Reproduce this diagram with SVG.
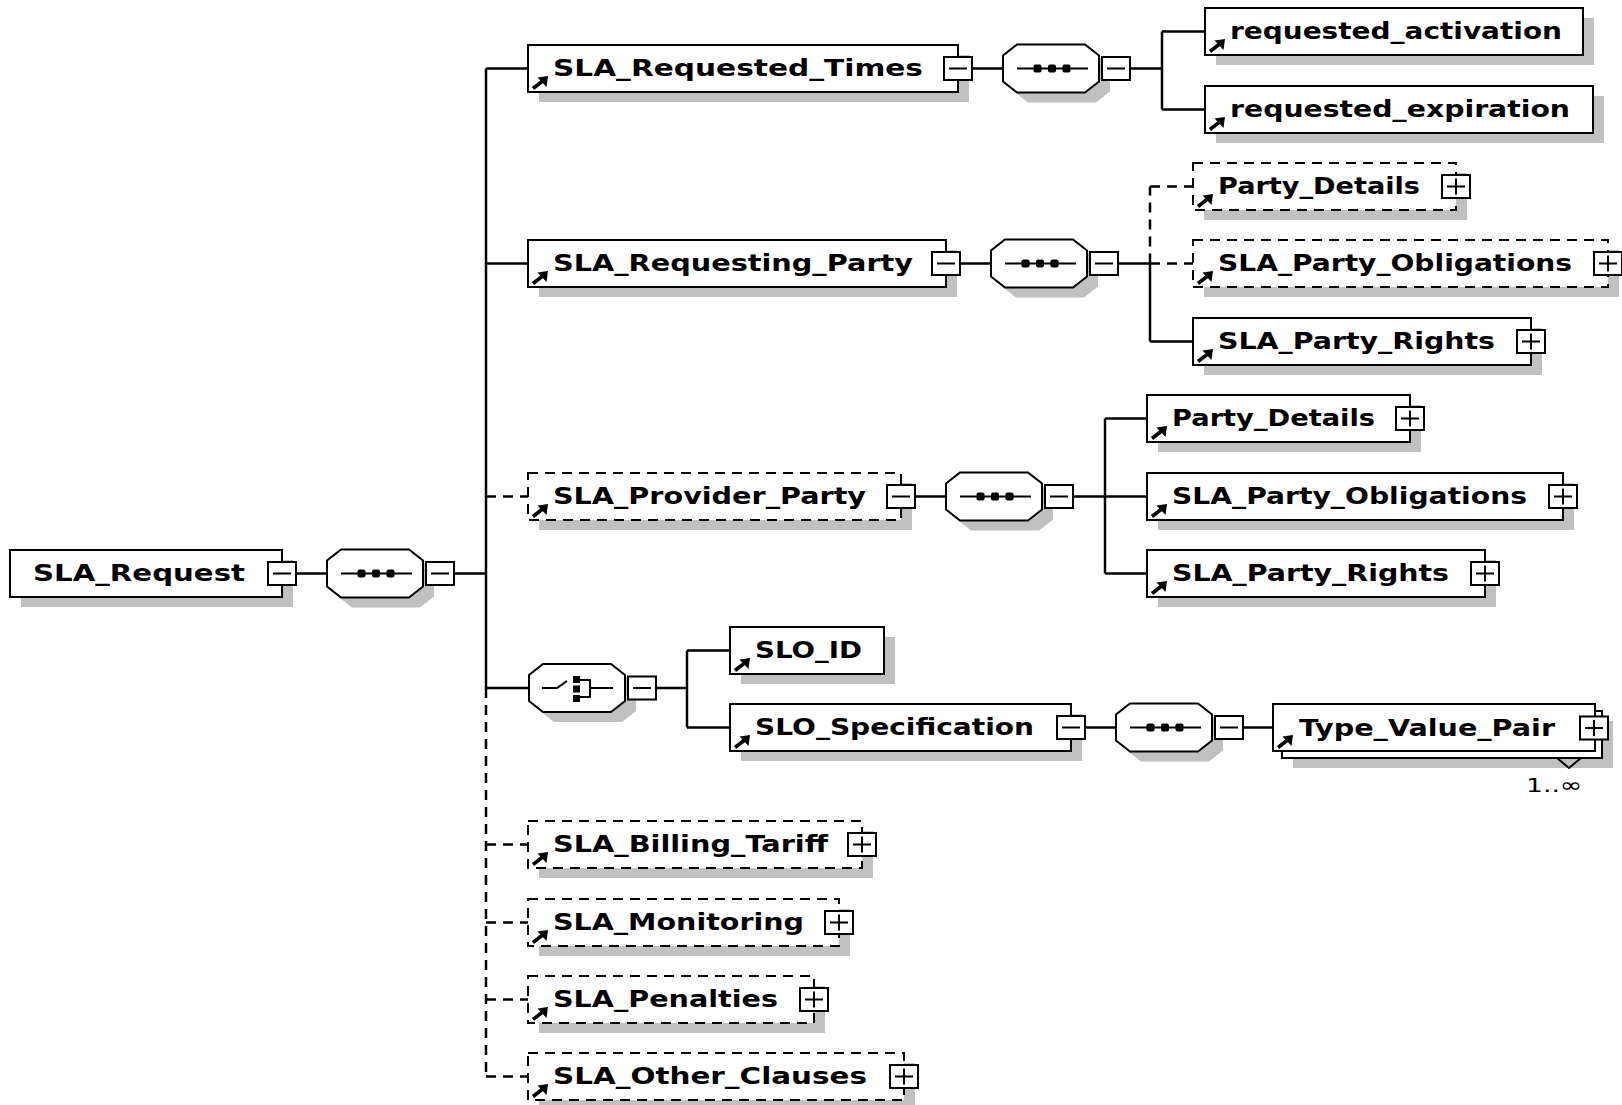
<svg xmlns="http://www.w3.org/2000/svg" xmlns:xlink="http://www.w3.org/1999/xlink" width="1622" height="1105" viewBox="0 0 1622 1105">
  <style>
    .box { fill: #fff; stroke: #000; stroke-width: 2; }
    .opt { stroke-dasharray: 10 7; }
    .sh { fill: #c0c0c0; stroke: none; }
    .ln { fill: none; stroke: #000; stroke-width: 2.5; }
    .dl { stroke-dasharray: 10 7; }
    .lbl { font-family: "DejaVu Sans", Verdana, sans-serif; font-weight: bold; font-size: 23px; fill: #000; }
    .occ { font-family: "DejaVu Sans", Verdana, sans-serif; font-size: 20px; fill: #000; }
  </style>
  <defs>
    <!-- reference arrow in the lower-left corner of an element box -->
    <g id="ref">
      <path d="M5 43.5 L14 36.5" stroke="#000" stroke-width="3.5" fill="none"/>
      <polygon points="20,31 9.5,32.5 18.5,42" fill="#000"/>
    </g>
    <!-- expand / collapse toggles, centred on the origin -->
    <g id="minus">
      <rect x="-14" y="-11.5" width="28" height="23" fill="#fff" stroke="#000" stroke-width="2"/>
      <path d="M-9 0H9" stroke="#000" stroke-width="2"/>
    </g>
    <g id="plus">
      <rect x="-14" y="-11.5" width="28" height="23" fill="#fff" stroke="#000" stroke-width="2"/>
      <path d="M-9 0H9M0 -8V8" stroke="#000" stroke-width="2"/>
    </g>
    <!-- compositor octagon with shadow -->
    <g id="oct">
      <polygon points="25,10 93,10 107,21 107,47 93,58 25,58 11,47 11,21" fill="#c0c0c0"/>
      <polygon points="14,0 82,0 96,11 96,37 82,48 14,48 0,37 0,11" fill="#fff" stroke="#000" stroke-width="2"/>
    </g>
    <!-- sequence compositor -->
    <g id="seq">
      <use href="#oct"/>
      <path d="M14 24H85" stroke="#000" stroke-width="2"/>
      <rect x="30.5" y="20" width="8" height="8" rx="2" fill="#000"/>
      <rect x="45" y="20" width="8" height="8" rx="2" fill="#000"/>
      <rect x="59.5" y="20" width="8" height="8" rx="2" fill="#000"/>
      <use href="#minus" x="113" y="24"/>
    </g>
    <!-- choice compositor -->
    <g id="choice">
      <use href="#oct"/>
      <path d="M13 24H28L38 17M51 16H61V33H51M61 24H84" stroke="#000" stroke-width="2" fill="none"/>
      <rect x="44" y="12" width="7" height="7" fill="#000"/>
      <rect x="44" y="21.5" width="7" height="7" fill="#000"/>
      <rect x="44" y="31" width="7" height="7" fill="#000"/>
      <use href="#minus" x="113" y="24"/>
    </g>
  </defs>

  <rect width="1622" height="1105" fill="#fff"/>

  <!-- connectors -->
  <g id="connectors">
    <path class="ln" d="M296 573.5H327M454 573.5H486"/>
    <path class="ln" d="M486 68.5V688M486 68.5H528M486 263.5H528M486 688H529"/>
    <path class="ln dl" d="M486 688V1076.5M486 496.5H528M486 844.5H528M486 922.5H528M486 999.5H528M486 1076.5H528"/>
    <path class="ln" d="M972 68.5H1003M1130 68.5H1162M1162 31.5V109.5M1162 31.5H1205M1162 109.5H1205"/>
    <path class="ln" d="M960 263.5H991M1118 263.5H1150M1150 263.5V341.5M1150 341.5H1193"/>
    <path class="ln dl" d="M1150 263.5V186.5M1150 186.5H1193M1150 263.5H1193"/>
    <path class="ln" d="M915 496.5H946M1073 496.5H1105M1105 418.5V573.5M1105 418.5H1147M1105 496.5H1147M1105 573.5H1147"/>
    <path class="ln" d="M656 688H687M687 650.5V727.5M687 650.5H730M687 727.5H730"/>
    <path class="ln" d="M1085 727.5H1116M1243 727.5H1273"/>
  </g>

  <!-- root element -->
  <g id="n-sla-request" transform="translate(10,550)">
    <rect class="sh" x="11" y="10" width="272" height="47"/>
    <rect class="box" width="272" height="47"/>
    <text class="lbl" x="23" y="31" textLength="212" lengthAdjust="spacingAndGlyphs">SLA_Request</text>
    <use href="#minus" x="272" y="23.5"/>
  </g>
  <g id="n-seq-root" transform="translate(327,549.5)"><use href="#seq"/></g>

  <!-- SLA_Requested_Times -->
  <g id="n-requested-times" transform="translate(528,45)">
    <rect class="sh" x="11" y="10" width="430" height="47"/>
    <rect class="box" width="430" height="47"/>
    <use href="#ref"/>
    <text class="lbl" x="25" y="31" textLength="370" lengthAdjust="spacingAndGlyphs">SLA_Requested_Times</text>
    <use href="#minus" x="430" y="23.5"/>
  </g>
  <g id="n-seq-times" transform="translate(1003,44.5)"><use href="#seq"/></g>
  <g id="n-requested-activation" transform="translate(1205,8)">
    <rect class="sh" x="11" y="10" width="378" height="47"/>
    <rect class="box" width="378" height="47"/>
    <use href="#ref"/>
    <text class="lbl" x="25" y="31" textLength="332" lengthAdjust="spacingAndGlyphs">requested_activation</text>
  </g>
  <g id="n-requested-expiration" transform="translate(1205,86)">
    <rect class="sh" x="11" y="10" width="388" height="47"/>
    <rect class="box" width="388" height="47"/>
    <use href="#ref"/>
    <text class="lbl" x="25" y="31" textLength="340" lengthAdjust="spacingAndGlyphs">requested_expiration</text>
  </g>

  <!-- SLA_Requesting_Party -->
  <g id="n-requesting-party" transform="translate(528,240)">
    <rect class="sh" x="11" y="10" width="418" height="47"/>
    <rect class="box" width="418" height="47"/>
    <use href="#ref"/>
    <text class="lbl" x="25" y="31" textLength="360" lengthAdjust="spacingAndGlyphs">SLA_Requesting_Party</text>
    <use href="#minus" x="418" y="23.5"/>
  </g>
  <g id="n-seq-requesting" transform="translate(991,239.5)"><use href="#seq"/></g>
  <g id="n-party-details-1" transform="translate(1193,163)">
    <rect class="sh" x="11" y="10" width="263" height="47"/>
    <rect class="box opt" width="263" height="47"/>
    <use href="#ref"/>
    <text class="lbl" x="25" y="31" textLength="202" lengthAdjust="spacingAndGlyphs">Party_Details</text>
    <use href="#plus" x="263" y="23.5"/>
  </g>
  <g id="n-party-obligations-1" transform="translate(1193,240)">
    <rect class="sh" x="11" y="10" width="415" height="47"/>
    <rect class="box opt" width="415" height="47"/>
    <use href="#ref"/>
    <text class="lbl" x="25" y="31" textLength="354" lengthAdjust="spacingAndGlyphs">SLA_Party_Obligations</text>
    <use href="#plus" x="415" y="23.5"/>
  </g>
  <g id="n-party-rights-1" transform="translate(1193,318)">
    <rect class="sh" x="11" y="10" width="338" height="47"/>
    <rect class="box" width="338" height="47"/>
    <use href="#ref"/>
    <text class="lbl" x="25" y="31" textLength="277" lengthAdjust="spacingAndGlyphs">SLA_Party_Rights</text>
    <use href="#plus" x="338" y="23.5"/>
  </g>

  <!-- SLA_Provider_Party -->
  <g id="n-provider-party" transform="translate(528,473)">
    <rect class="sh" x="11" y="10" width="373" height="47"/>
    <rect class="box opt" width="373" height="47"/>
    <use href="#ref"/>
    <text class="lbl" x="25" y="31" textLength="313" lengthAdjust="spacingAndGlyphs">SLA_Provider_Party</text>
    <use href="#minus" x="373" y="23.5"/>
  </g>
  <g id="n-seq-provider" transform="translate(946,472.5)"><use href="#seq"/></g>
  <g id="n-party-details-2" transform="translate(1147,395)">
    <rect class="sh" x="11" y="10" width="263" height="47"/>
    <rect class="box" width="263" height="47"/>
    <use href="#ref"/>
    <text class="lbl" x="25" y="31" textLength="203" lengthAdjust="spacingAndGlyphs">Party_Details</text>
    <use href="#plus" x="263" y="23.5"/>
  </g>
  <g id="n-party-obligations-2" transform="translate(1147,473)">
    <rect class="sh" x="11" y="10" width="416" height="47"/>
    <rect class="box" width="416" height="47"/>
    <use href="#ref"/>
    <text class="lbl" x="25" y="31" textLength="355" lengthAdjust="spacingAndGlyphs">SLA_Party_Obligations</text>
    <use href="#plus" x="416" y="23.5"/>
  </g>
  <g id="n-party-rights-2" transform="translate(1147,550)">
    <rect class="sh" x="11" y="10" width="338" height="47"/>
    <rect class="box" width="338" height="47"/>
    <use href="#ref"/>
    <text class="lbl" x="25" y="31" textLength="277" lengthAdjust="spacingAndGlyphs">SLA_Party_Rights</text>
    <use href="#plus" x="338" y="23.5"/>
  </g>

  <!-- SLO choice -->
  <g id="n-choice-slo" transform="translate(529,664)"><use href="#choice"/></g>
  <g id="n-slo-id" transform="translate(730,627)">
    <rect class="sh" x="11" y="10" width="154" height="47"/>
    <rect class="box" width="154" height="47"/>
    <use href="#ref"/>
    <text class="lbl" x="25" y="31" textLength="107" lengthAdjust="spacingAndGlyphs">SLO_ID</text>
  </g>
  <g id="n-slo-specification" transform="translate(730,704)">
    <rect class="sh" x="11" y="10" width="341" height="47"/>
    <rect class="box" width="341" height="47"/>
    <use href="#ref"/>
    <text class="lbl" x="25" y="31" textLength="279" lengthAdjust="spacingAndGlyphs">SLO_Specification</text>
    <use href="#minus" x="341" y="23.5"/>
  </g>
  <g id="n-seq-slo" transform="translate(1116,703.5)"><use href="#seq"/></g>
  <g id="n-type-value-pair" transform="translate(1273,704)">
    <rect class="sh" x="20" y="17" width="320" height="47"/>
    <rect class="box" x="9" y="7" width="320" height="47"/>
    <rect class="box" width="322" height="47"/>
    <use href="#ref"/>
    <text class="lbl" x="26" y="32" textLength="256" lengthAdjust="spacingAndGlyphs">Type_Value_Pair</text>
    <use href="#plus" x="321" y="24"/>
    <polyline points="284,54 296,64 308,54" fill="none" stroke="#000" stroke-width="2"/>
    <text class="occ" x="253" y="88" textLength="56" lengthAdjust="spacingAndGlyphs">1..∞</text>
  </g>

  <!-- optional elements -->
  <g id="n-billing-tariff" transform="translate(528,821)">
    <rect class="sh" x="11" y="10" width="334" height="47"/>
    <rect class="box opt" width="334" height="47"/>
    <use href="#ref"/>
    <text class="lbl" x="25" y="31" textLength="275" lengthAdjust="spacingAndGlyphs">SLA_Billing_Tariff</text>
    <use href="#plus" x="334" y="23.5"/>
  </g>
  <g id="n-monitoring" transform="translate(528,899)">
    <rect class="sh" x="11" y="10" width="311" height="47"/>
    <rect class="box opt" width="311" height="47"/>
    <use href="#ref"/>
    <text class="lbl" x="25" y="31" textLength="251" lengthAdjust="spacingAndGlyphs">SLA_Monitoring</text>
    <use href="#plus" x="311" y="23.5"/>
  </g>
  <g id="n-penalties" transform="translate(528,976)">
    <rect class="sh" x="11" y="10" width="286" height="47"/>
    <rect class="box opt" width="286" height="47"/>
    <use href="#ref"/>
    <text class="lbl" x="25" y="31" textLength="225" lengthAdjust="spacingAndGlyphs">SLA_Penalties</text>
    <use href="#plus" x="286" y="23.5"/>
  </g>
  <g id="n-other-clauses" transform="translate(528,1053)">
    <rect class="sh" x="11" y="10" width="376" height="47"/>
    <rect class="box opt" width="376" height="47"/>
    <use href="#ref"/>
    <text class="lbl" x="25" y="31" textLength="314" lengthAdjust="spacingAndGlyphs">SLA_Other_Clauses</text>
    <use href="#plus" x="376" y="23.5"/>
  </g>
</svg>
